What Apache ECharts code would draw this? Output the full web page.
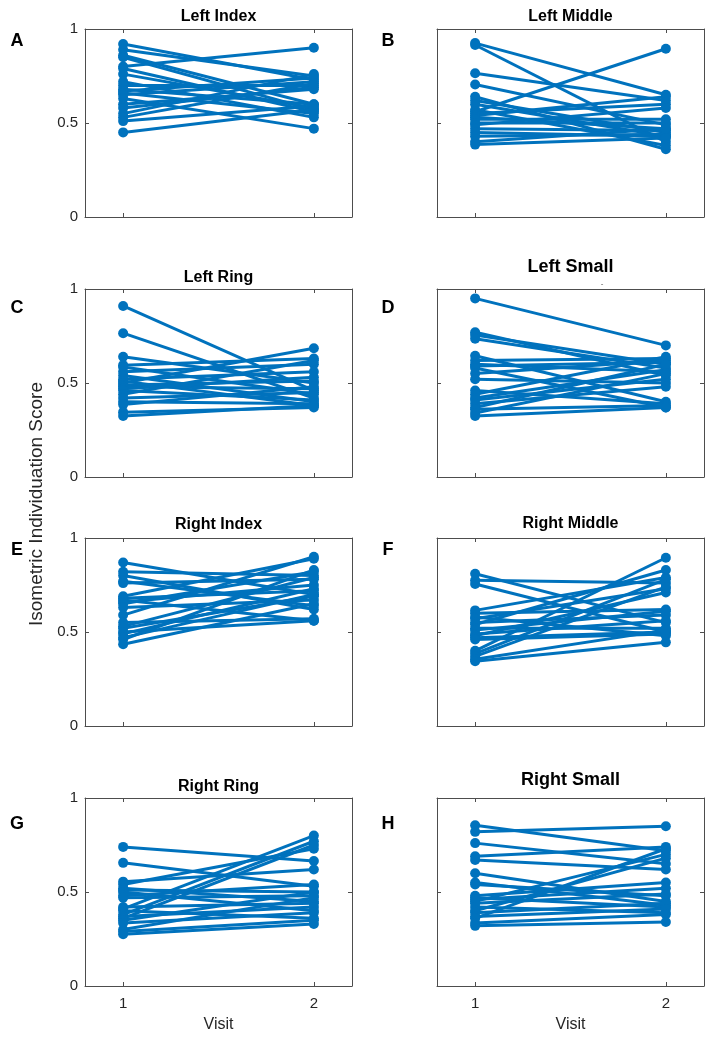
<!DOCTYPE html>
<html>
<head>
<meta charset="utf-8">
<script src="https://cdn.jsdelivr.net/npm/echarts@6/dist/echarts.min.js"></script>
<style>
html,body{margin:0;padding:0;background:#fff;}
#chart{width:715px;height:1044px;}
</style>
</head>
<body>
<div id="chart"></div>
<script>
// ---- data ----
const visits = [1, 2];
const yTicks = [0, 0.5, 1];
const panelTitles = ['Left Index', 'Left Middle', 'Left Ring', 'Left Small', 'Right Index', 'Right Middle', 'Right Ring', 'Right Small'];
const panelLetters = ['A', 'B', 'C', 'D', 'E', 'F', 'G', 'H'];
const yAxisTitle = 'Isometric Individuation Score';
const xAxisTitle = 'Visit';

const leftIndexV1 = [0.92, 0.89, 0.86, 0.85, 0.80, 0.79, 0.76, 0.72, 0.70, 0.68, 0.67, 0.66, 0.65, 0.63, 0.60, 0.58, 0.55, 0.53, 0.51, 0.45];
const leftIndexV2 = [0.73, 0.75, 0.60, 0.57, 0.90, 0.56, 0.58, 0.53, 0.70, 0.60, 0.74, 0.55, 0.72, 0.47, 0.68, 0.69, 0.76, 0.71, 0.59, 0.57];

const leftMiddleV1 = [0.925, 0.915, 0.765, 0.705, 0.64, 0.62, 0.60, 0.57, 0.56, 0.55, 0.54, 0.53, 0.52, 0.50, 0.49, 0.47, 0.45, 0.43, 0.40, 0.385];
const leftMiddleV2 = [0.65, 0.40, 0.62, 0.49, 0.36, 0.45, 0.43, 0.38, 0.895, 0.60, 0.64, 0.47, 0.52, 0.50, 0.58, 0.46, 0.43, 0.44, 0.47, 0.42];

const leftRingV1 = [0.91, 0.765, 0.64, 0.595, 0.585, 0.56, 0.54, 0.52, 0.51, 0.50, 0.49, 0.48, 0.47, 0.46, 0.44, 0.42, 0.40, 0.385, 0.345, 0.325];
const leftRingV2 = [0.46, 0.42, 0.50, 0.63, 0.44, 0.60, 0.40, 0.56, 0.38, 0.685, 0.51, 0.47, 0.53, 0.41, 0.62, 0.45, 0.39, 0.48, 0.37, 0.38];

const leftSmallV1 = [0.95, 0.77, 0.755, 0.735, 0.645, 0.62, 0.60, 0.59, 0.58, 0.55, 0.52, 0.46, 0.44, 0.42, 0.41, 0.39, 0.37, 0.36, 0.34, 0.325];
const leftSmallV2 = [0.70, 0.54, 0.60, 0.58, 0.40, 0.63, 0.56, 0.61, 0.37, 0.62, 0.50, 0.39, 0.64, 0.57, 0.52, 0.48, 0.60, 0.38, 0.55, 0.37];

const rightIndexV1 = [0.87, 0.82, 0.80, 0.77, 0.76, 0.69, 0.68, 0.67, 0.66, 0.65, 0.63, 0.59, 0.55, 0.53, 0.52, 0.50, 0.49, 0.47, 0.46, 0.435];
const rightIndexV2 = [0.70, 0.80, 0.62, 0.64, 0.78, 0.89, 0.72, 0.56, 0.75, 0.82, 0.67, 0.90, 0.57, 0.79, 0.69, 0.56, 0.73, 0.70, 0.83, 0.65];

const rightMiddleV1 = [0.81, 0.775, 0.755, 0.615, 0.60, 0.58, 0.57, 0.55, 0.54, 0.52, 0.51, 0.49, 0.48, 0.47, 0.46, 0.40, 0.385, 0.37, 0.355, 0.345];
const rightMiddleV2 = [0.55, 0.76, 0.50, 0.79, 0.62, 0.48, 0.73, 0.59, 0.83, 0.52, 0.61, 0.56, 0.71, 0.50, 0.49, 0.895, 0.78, 0.74, 0.51, 0.445];

const rightRingV1 = [0.74, 0.655, 0.555, 0.54, 0.52, 0.51, 0.50, 0.48, 0.47, 0.42, 0.41, 0.40, 0.38, 0.37, 0.36, 0.35, 0.335, 0.30, 0.29, 0.275];
const rightRingV2 = [0.665, 0.53, 0.62, 0.73, 0.45, 0.50, 0.40, 0.54, 0.48, 0.44, 0.80, 0.36, 0.77, 0.42, 0.75, 0.50, 0.39, 0.47, 0.35, 0.33];

const rightSmallV1 = [0.855, 0.82, 0.76, 0.69, 0.67, 0.60, 0.55, 0.54, 0.48, 0.47, 0.46, 0.45, 0.44, 0.42, 0.40, 0.39, 0.37, 0.36, 0.335, 0.32];
const rightSmallV2 = [0.72, 0.85, 0.65, 0.74, 0.62, 0.45, 0.43, 0.48, 0.55, 0.42, 0.52, 0.70, 0.49, 0.39, 0.68, 0.44, 0.41, 0.73, 0.38, 0.34];

const panelV1 = [leftIndexV1, leftMiddleV1, leftRingV1, leftSmallV1, rightIndexV1, rightMiddleV1, rightRingV1, rightSmallV1];
const panelV2 = [leftIndexV2, leftMiddleV2, leftRingV2, leftSmallV2, rightIndexV2, rightMiddleV2, rightRingV2, rightSmallV2];

// ---- layout ----
const FONT = 'Liberation Sans, Arial, Helvetica, sans-serif';
const TXT = '#262626';
const BOX = '#4d4d4d';
const BLUE = '#0072BD';
const colLeft = [85, 437];
const rowTop = [29, 289, 538, 798];
const gW = 267, gH = 188;
const titleY = [17, 278, 525, 787];
const titleYRight = [17, 267, 524, 780];

const grids = [], xAxes = [], yAxes = [], series = [], graphics = [];
for (let p = 0; p < 8; p++) {
  const col = p % 2, row = Math.floor(p / 2);
  grids.push({ left: colLeft[col], top: rowTop[row], width: gW, height: gH, containLabel: false });
  const isBottom = row === 3, isLeft = col === 0;
  const xBase = {
    gridIndex: p, type: 'value', min: 0.8, max: 2.2,
    axisLine: { show: true, onZero: false, lineStyle: { color: BOX, width: 1 } },
    axisTick: { show: true, inside: true, length: 4, customValues: visits, lineStyle: { color: BOX } },
    splitLine: { show: false }
  };
  xAxes.push(Object.assign({}, xBase, {
    position: 'bottom',
    axisLabel: { show: isBottom, customValues: visits, color: TXT, fontFamily: FONT, fontSize: 15, margin: 10 },
    name: isBottom ? xAxisTitle : '', nameLocation: 'middle', nameGap: 31,
    nameTextStyle: { color: TXT, fontFamily: FONT, fontSize: 16 }
  }));
  xAxes.push(Object.assign({}, xBase, { position: 'top', axisLabel: { show: false } }));
  const yBase = {
    gridIndex: p, type: 'value', min: 0, max: 1, interval: 0.5,
    axisLine: { show: true, onZero: false, lineStyle: { color: BOX, width: 1 } },
    axisTick: { show: true, inside: true, length: 4, lineStyle: { color: BOX } },
    splitLine: { show: false }
  };
  yAxes.push(Object.assign({}, yBase, {
    position: 'left',
    axisLabel: { show: isLeft, color: TXT, fontFamily: FONT, fontSize: 15, margin: 7,
      formatter: v => (yTicks.indexOf(v) >= 0 ? String(v) : '') }
  }));
  yAxes.push(Object.assign({}, yBase, { position: 'right', axisLabel: { show: false } }));

  const v1 = panelV1[p], v2 = panelV2[p];
  for (let i = 0; i < v1.length; i++) {
    series.push({
      type: 'line', xAxisIndex: 2 * p, yAxisIndex: 2 * p,
      data: [[visits[0], v1[i]], [visits[1], v2[i]]],
      symbol: 'circle', symbolSize: 10, showSymbol: true,
      lineStyle: { color: BLUE, width: 3 }, itemStyle: { color: BLUE },
      silent: true, animation: false
    });
  }

  const tY = col === 0 ? titleY[row] : titleYRight[row];
  const tSize = col === 1 && (row === 1 || row === 3) ? 18 : 16;
  graphics.push({
    type: 'text', x: colLeft[col] + gW / 2, y: tY,
    style: { text: panelTitles[p], fill: '#000', font: 'bold ' + tSize + 'px ' + FONT, textAlign: 'center', textVerticalAlign: 'middle' }
  });
  graphics.push({
    type: 'text', x: col === 0 ? 17 : 388, y: rowTop[row] + (row === 3 ? 26 : (row === 1 ? 19 : 12)),
    style: { text: panelLetters[p], fill: '#000', font: 'bold 18px ' + FONT, textAlign: 'center', textVerticalAlign: 'middle' }
  });
}
graphics.push({
  type: 'text', x: 37, y: 504, rotation: Math.PI / 2,
  style: { text: yAxisTitle, fill: TXT, font: '19px ' + FONT, textAlign: 'center', textVerticalAlign: 'middle' }
});
graphics.push({
  type: 'text', x: 602, y: 284,
  style: { text: '-', fill: '#555', font: '8px ' + FONT, textAlign: 'center', textVerticalAlign: 'middle' }
});

const chart = echarts.init(document.getElementById('chart'), null, { renderer: 'canvas' });
chart.setOption({
  backgroundColor: '#fff',
  animation: false,
  grid: grids,
  xAxis: xAxes,
  yAxis: yAxes,
  series: series,
  graphic: graphics
});
</script>
</body>
</html>
